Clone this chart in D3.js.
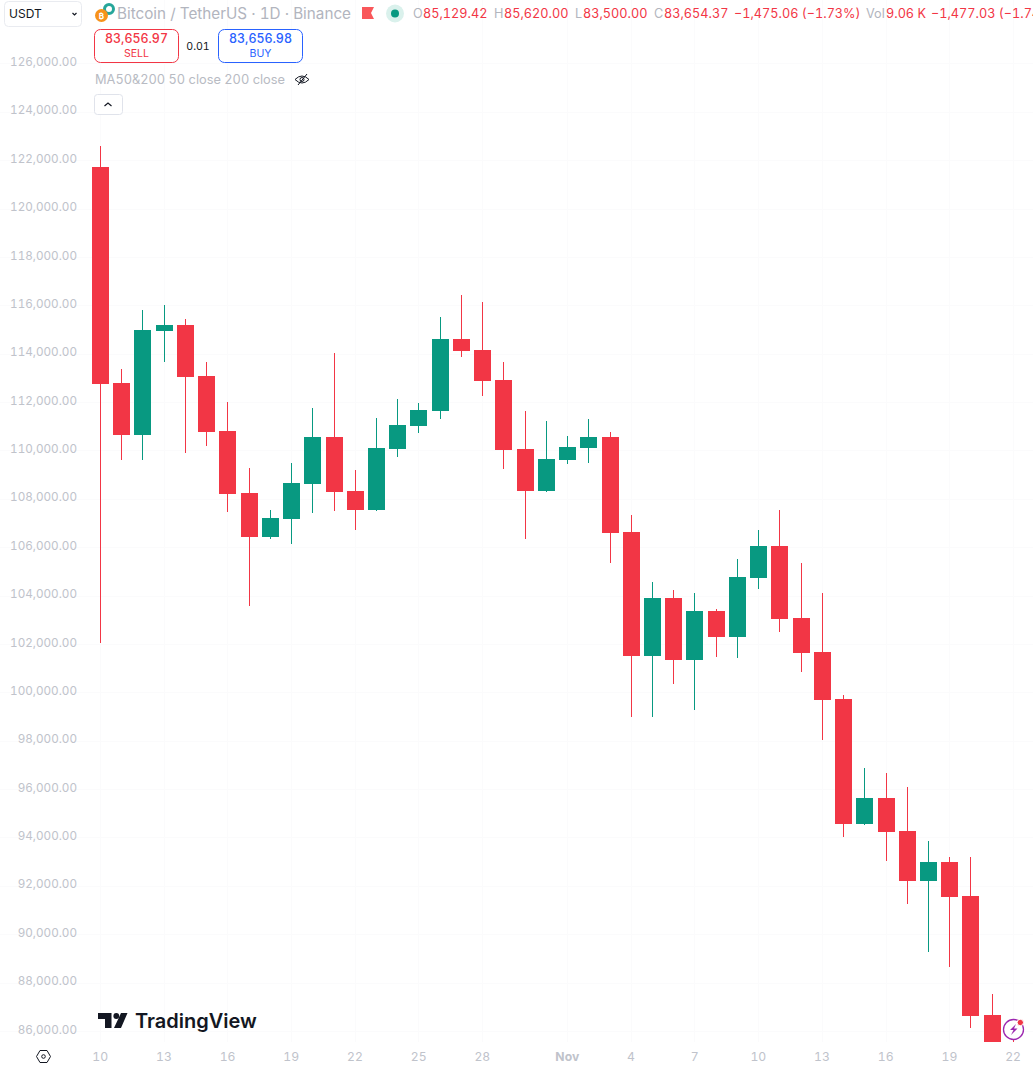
<!DOCTYPE html>
<html>
<head>
<meta charset="utf-8">
<title>BTC/USDT</title>
<script src="https://cdn.jsdelivr.net/npm/d3@7/dist/d3.min.js"></script>
<style>
  html, body { margin: 0; padding: 0; background: #fff; overflow: hidden; }
  svg { display: block; }
  text { font-family: Inter, "Noto Sans", sans-serif; font-variant-numeric: tabular-nums; }
</style>
</head>
<body>
<svg></svg>
<script>
// daily candles
var dates = ["2025-10-10","2025-10-11","2025-10-12","2025-10-13","2025-10-14","2025-10-15","2025-10-16","2025-10-17","2025-10-18","2025-10-19","2025-10-20","2025-10-21","2025-10-22","2025-10-23","2025-10-24","2025-10-25","2025-10-26","2025-10-27","2025-10-28","2025-10-29","2025-10-30","2025-10-31","2025-11-01","2025-11-02","2025-11-03","2025-11-04","2025-11-05","2025-11-06","2025-11-07","2025-11-08","2025-11-09","2025-11-10","2025-11-11","2025-11-12","2025-11-13","2025-11-14","2025-11-15","2025-11-16","2025-11-17","2025-11-18","2025-11-19","2025-11-20","2025-11-21","2025-11-22"];
var opens = [121718,112788,110639,114938,115186,113078,110804,108241,106422,107166,108613,110556,108324,107538,110060,111011,111631,114607,114153,112912,110060,108324,109605,110101,110556,106629,101503,103900,101337,103363,102288,104727,106050,103073,101668,99725,94557,95632,94268,92201,92986,91581,86661,85129];
var highs = [122586,113367,115806,116013,115434,113656,112003,109274,107538,109481,111755,114029,109192,111341,112127,111962,115517,116426,116137,113656,111631,111217,110597,111300,110763,107331,104562,104231,104107,103445,105512,106711,107538,105347,104107,99890,96872,96666,96087,93855,93193,93193,87530,85620];
var lows = [102040,109605,109605,113656,109895,110184,107455,103570,106339,106133,107414,107497,106711,107500,109729,110721,111300,113863,112251,109233,106339,108300,109440,109481,105347,98981,98981,100345,99270,101461,101420,104272,102495,100841,98030,94020,94500,93028,91250,89266,88646,86124,80600,83500];
var closes = [112747,110639,114979,115186,113036,110763,108200,106422,107207,108654,110556,108282,107538,110101,111052,111672,114607,114111,112871,110019,108324,109646,110143,110556,106587,101503,103900,101337,103363,102288,104768,106050,103032,101627,99684,94557,95632,94227,92201,92986,91540,86620,85129,83654];

var priceTicks = [86000,88000,90000,92000,94000,96000,98000,100000,102000,104000,106000,108000,110000,112000,114000,116000,118000,120000,122000,124000,126000];
var timeTicks = ["2025-10-10","2025-10-13","2025-10-16","2025-10-19","2025-10-22","2025-10-25","2025-10-28","2025-11-01","2025-11-04","2025-11-07","2025-11-10","2025-11-13","2025-11-16","2025-11-19","2025-11-22"];

var upColor = "#089981";
var downColor = "#f23645";
var grayText = "#b2b5be";

var width = 1033;
var height = 1066;
var plotBottom = 1042;
var bodyWidth = 17;

var svg = d3.select("svg")
  .attr("width", width)
  .attr("height", height);

var parseDay = d3.utcParse("%Y-%m-%d");

var x = d3.scaleUtc()
  .domain([parseDay(dates[0]), parseDay(dates[dates.length - 1])])
  .range([100.5, 1013.4]);

var y = d3.scaleLinear()
  .domain([86000, 126000])
  .range([1031, 63.4]);

var candles = dates.map(function(d, i) {
  return { date: parseDay(d), open: opens[i], high: highs[i], low: lows[i], close: closes[i] };
});

// grid is almost invisible in the original
var grid = svg.append("g").attr("stroke", "#fbfbfc").attr("stroke-width", 1);
grid.selectAll("line.h")
  .data(priceTicks)
  .enter()
  .append("line")
  .attr("class", "h")
  .attr("x1", 0)
  .attr("x2", width)
  .attr("y1", function(d) { return Math.round(y(d)) + 0.5; })
  .attr("y2", function(d) { return Math.round(y(d)) + 0.5; });
grid.selectAll("line.v")
  .data(timeTicks)
  .enter()
  .append("line")
  .attr("class", "v")
  .attr("x1", function(d) { return Math.floor(x(parseDay(d))) + 0.5; })
  .attr("x2", function(d) { return Math.floor(x(parseDay(d))) + 0.5; })
  .attr("y1", 0)
  .attr("y2", plotBottom);

// axes
var yAxis = d3.axisLeft(y)
  .tickValues(priceTicks)
  .tickSize(0)
  .tickPadding(0)
  .tickFormat(d3.format(",.2f"));

var yAxisArea = svg.append("g")
  .attr("transform", "translate(77,0)")
  .call(yAxis);
yAxisArea.select(".domain").remove();
yAxisArea.selectAll("text")
  .attr("dy", "0.18em")
  .style("font-family", "Inter, sans-serif")
  .style("font-size", "11.7px")
  .attr("fill", "#c0c3cb");

var xAxis = d3.axisBottom(x)
  .tickValues(timeTicks.map(parseDay))
  .tickSize(0)
  .tickPadding(0)
  .tickFormat(function(d) {
    return d.getUTCDate() === 1 ? "Nov" : d.getUTCDate();
  });

var xAxisArea = svg.append("g")
  .attr("transform", "translate(-0.8,1052)")
  .call(xAxis);
xAxisArea.select(".domain").remove();
xAxisArea.selectAll("text")
  .style("font-family", "Inter, sans-serif")
  .style("font-size", "12.2px")
  .style("font-weight", function(d) { return d.getUTCDate() === 1 ? 700 : 400; })
  .attr("fill", "#c0c3cb");

// candles, the last ones run off the bottom of the plot
svg.append("clipPath")
  .attr("id", "plotClip")
  .append("rect")
  .attr("x", 0)
  .attr("y", 0)
  .attr("width", width)
  .attr("height", plotBottom);

var candleArea = svg.append("g").attr("clip-path", "url(#plotClip)");

var candleColor = function(d) {
  return d.close >= d.open ? upColor : downColor;
};

candleArea.selectAll("rect.wick")
  .data(candles)
  .enter()
  .append("rect")
  .attr("class", "wick")
  .attr("x", function(d) { return Math.floor(x(d.date)); })
  .attr("width", 1)
  .attr("y", function(d) { return Math.round(y(d.high)); })
  .attr("height", function(d) { return Math.round(y(d.low)) - Math.round(y(d.high)); })
  .attr("fill", candleColor);

candleArea.selectAll("rect.body")
  .data(candles)
  .enter()
  .append("rect")
  .attr("class", "body")
  .attr("x", function(d) { return Math.floor(x(d.date)) - 8; })
  .attr("width", bodyWidth)
  .attr("y", function(d) { return Math.round(y(Math.max(d.open, d.close))); })
  .attr("height", function(d) {
    return Math.round(y(Math.min(d.open, d.close))) - Math.round(y(Math.max(d.open, d.close)));
  })
  .attr("fill", candleColor);

// currency box
svg.append("rect")
  .attr("x", 4.5).attr("y", 1.5)
  .attr("width", 77).attr("height", 25)
  .attr("rx", 4)
  .attr("fill", "#fff")
  .attr("stroke", "#e9ebf0");
svg.append("text")
  .attr("x", 9).attr("y", 18)
  .attr("font-size", 12)
  .attr("fill", "#131722")
  .text("USDT");
svg.append("path")
  .attr("d", "M72.5 13l2 2 2-2")
  .attr("fill", "none")
  .attr("stroke", "#131722")
  .attr("stroke-width", 1.2);

// symbol icons
svg.append("circle").attr("cx", 109).attr("cy", 9).attr("r", 4.5).attr("fill", "none").attr("stroke", "#26a69a").attr("stroke-width", 3);
svg.append("circle").attr("cx", 101.5).attr("cy", 15.5).attr("r", 6.5).attr("fill", "#f7931a");
svg.append("text").attr("x", 101.5).attr("y", 18.5).attr("text-anchor", "middle").attr("font-size", 8).attr("font-weight", 700).attr("fill", "#fff").text("₿");

svg.append("text")
  .attr("x", 117).attr("y", 19)
  .attr("font-size", 15.25)
  .attr("fill", grayText)
  .text("Bitcoin / TetherUS · 1D · Binance");

svg.append("path")
  .attr("d", "M362 7h12l-3 6 3 6h-12z")
  .attr("fill", "#f9575a");

svg.append("circle").attr("cx", 395).attr("cy", 13.5).attr("r", 9).attr("fill", "#daf1ec");
svg.append("circle").attr("cx", 395).attr("cy", 13.5).attr("r", 4).attr("fill", upColor);

// OHLC values in the header
var headerLabels = ["O", "H", "L", "C", "Vol"];
var headerLabelX = [413, 494, 575, 654, 866];
var headerValues = ["85,129.42", "85,620.00", "83,500.00", "83,654.37", "−1,475.06 (−1.73%)", "9.06 K", "−1,477.03 (−1.74%)"];
var headerValueX = [423, 504, 583, 664, 734, 886, 931];

svg.selectAll("text.hlabel")
  .data(headerLabels)
  .enter()
  .append("text")
  .attr("class", "hlabel")
  .attr("x", function(d, i) { return headerLabelX[i]; })
  .attr("y", 18)
  .attr("font-size", 12.7)
  .attr("fill", grayText)
  .text(function(d) { return d; });

svg.selectAll("text.hvalue")
  .data(headerValues)
  .enter()
  .append("text")
  .attr("class", "hvalue")
  .attr("x", function(d, i) { return headerValueX[i]; })
  .attr("y", 18)
  .attr("font-size", 12.7)
  .attr("fill", downColor)
  .text(function(d) { return d; });

// sell / buy buttons
var tradeLabels = ["SELL", "BUY"];
var tradePrices = ["83,656.97", "83,656.98"];
var tradeColors = [downColor, "#2962ff"];
var tradeX = [94.5, 218.5];

tradeLabels.forEach(function(label, i) {
  svg.append("rect")
    .attr("x", tradeX[i]).attr("y", 29.5)
    .attr("width", 84).attr("height", 33)
    .attr("rx", 6)
    .attr("fill", "#fff")
    .attr("stroke", tradeColors[i]);
  svg.append("text")
    .attr("x", tradeX[i] + 42).attr("y", 43)
    .attr("text-anchor", "middle")
    .attr("font-size", 12.4)
    .attr("font-weight", 500)
    .attr("fill", tradeColors[i])
    .text(tradePrices[i]);
  svg.append("text")
    .attr("x", tradeX[i] + 42).attr("y", 57)
    .attr("text-anchor", "middle")
    .attr("font-size", 10.6)
    .attr("fill", tradeColors[i])
    .text(label);
});

svg.append("text")
  .attr("x", 198).attr("y", 50)
  .attr("text-anchor", "middle")
  .attr("font-size", 10.6)
  .attr("fill", "#131722")
  .text("0.01");

// indicator legend
svg.append("text")
  .attr("x", 95).attr("y", 84)
  .attr("font-size", 12.8)
  .attr("fill", "#b8bbc3")
  .text("MA50&200 50 close 200 close");
svg.append("path")
  .attr("d", "M295 79.5q7-7 14 0q-7 7-14 0zM298 85l9-11")
  .attr("fill", "none")
  .attr("stroke", "#131722");
svg.append("circle").attr("cx", 302).attr("cy", 79.5).attr("r", 2).attr("fill", "none").attr("stroke", "#131722");

svg.append("rect")
  .attr("x", 94.5).attr("y", 94.5)
  .attr("width", 28).attr("height", 20)
  .attr("rx", 3)
  .attr("fill", "#fff")
  .attr("stroke", "#e0e3eb");
svg.append("path")
  .attr("d", "M104.5 106l3.5-3 3.5 3")
  .attr("fill", "none")
  .attr("stroke", "#131722")
  .attr("stroke-width", 1.2);

// TradingView logo
svg.append("path")
  .attr("d", "M98 1013h13.5v15h-6.5v-9h-7zM121 1013h6.5l-6.5 15h-7z")
  .attr("fill", "#131722");
svg.append("circle").attr("cx", 116.3).attr("cy", 1016).attr("r", 2.9).attr("fill", "#131722");
svg.append("text")
  .attr("x", 135).attr("y", 1028)
  .attr("font-size", 20)
  .attr("font-weight", 600)
  .attr("fill", "#131722")
  .text("TradingView");

// settings icon
svg.append("path")
  .attr("d", "M36.5 1056.5l3.5-6h7l3.5 6-3.5 6h-7z")
  .attr("fill", "none")
  .attr("stroke", "#131722");
svg.append("circle").attr("cx", 43.5).attr("cy", 1056.5).attr("r", 1.8).attr("fill", "none").attr("stroke", "#131722");

// lightning badge
svg.append("circle").attr("cx", 1013.5).attr("cy", 1029.5).attr("r", 10).attr("fill", "#fff").attr("stroke", "#9c27b0").attr("stroke-width", 1.3);
svg.append("path")
  .attr("d", "M1016 1024l-6 6h3.5l-2.5 5 6.5-6.5h-3.5z")
  .attr("fill", "#9c27b0");
svg.append("circle").attr("cx", 1020.3).attr("cy", 1022.5).attr("r", 3.2).attr("fill", "#f23645").attr("stroke", "#fff");
</script>
</body>
</html>
